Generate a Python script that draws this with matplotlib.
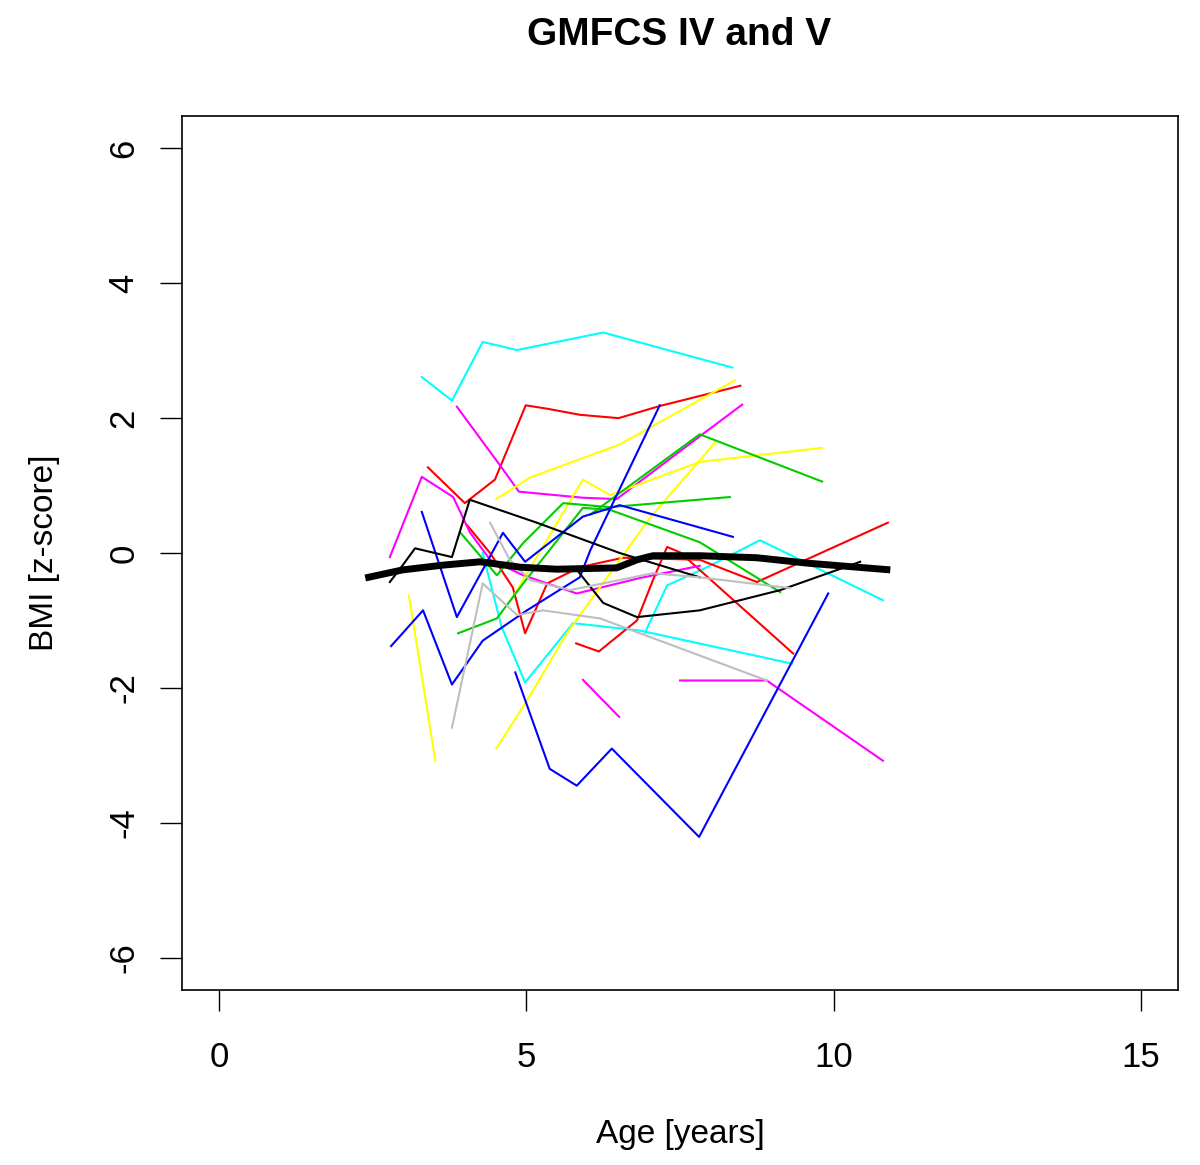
import matplotlib
matplotlib.use('Agg')
import matplotlib.pyplot as plt
from matplotlib import font_manager

# 字体: 尽量用窄体, 跟原图一样
names = {f.name for f in font_manager.fontManager.ttflist}
fam = 'Liberation Sans Narrow' if 'Liberation Sans Narrow' in names else 'Liberation Sans'
plt.rcParams['font.family'] = [fam, 'DejaVu Sans']
plt.rcParams['axes.unicode_minus'] = False

"""数据: 每个孩子的年龄和BMI z-score"""
cyan1_x = [3.30, 3.79, 4.29, 4.85, 6.25, 8.35]
cyan1_y = [2.61, 2.26, 3.13, 3.01, 3.27, 2.75]
cyan2_x = [4.29, 4.60, 4.98, 5.76, 6.85, 9.32]
cyan2_y = [0.00, -1.10, -1.92, -1.04, -1.15, -1.64]
cyan3_x = [6.93, 7.29, 7.94, 8.80, 10.80]
cyan3_y = [-1.18, -0.48, -0.21, 0.19, -0.70]

red1_x = [3.40, 4.00, 4.49, 4.99, 5.34, 5.87, 6.50, 7.17, 8.48]
red1_y = [1.27, 0.74, 1.09, 2.19, 2.14, 2.05, 2.00, 2.18, 2.48]
red2_x = [4.03, 4.41, 4.78, 4.98, 5.34, 5.87, 6.57, 7.82, 8.75, 10.88]
red2_y = [0.42, 0.00, -0.51, -1.19, -0.45, -0.21, -0.07, -0.10, -0.43, 0.45]
red3_x = [5.81, 6.18, 6.80, 7.06, 7.29, 7.50, 9.34]
red3_y = [-1.34, -1.46, -1.00, -0.40, 0.09, 0.01, -1.49]

mag1_x = [2.78, 3.30, 3.81, 4.08, 4.41, 4.95, 5.82, 6.85, 7.82]
mag1_y = [-0.06, 1.13, 0.83, 0.31, -0.10, -0.33, -0.60, -0.37, -0.19]
mag2_x = [3.87, 4.54, 4.88, 5.92, 6.47, 7.82, 8.51]
mag2_y = [2.17, 1.34, 0.91, 0.82, 0.80, 1.73, 2.20]
mag3_x = [5.92, 6.51]
mag3_y = [-1.88, -2.43]
mag4_x = [7.50, 8.91, 10.80]
mag4_y = [-1.89, -1.89, -3.08]

yel1_x = [4.51, 5.06, 6.52, 8.39]
yel1_y = [0.80, 1.12, 1.61, 2.56]
yel2_x = [3.09, 3.52]
yel2_y = [-0.63, -3.08]
yel3_x = [4.51, 5.01, 5.66, 7.01, 8.07]
yel3_y = [-2.90, -2.19, -1.19, 0.52, 1.64]
yel4_x = [4.75, 5.92, 6.36, 7.82, 9.81]
yel4_y = [-0.70, 1.09, 0.86, 1.35, 1.56]

grn1_x = [3.92, 4.52, 4.95, 5.60, 6.36, 8.31]
grn1_y = [0.31, -0.33, 0.15, 0.74, 0.68, 0.83]
grn2_x = [3.89, 4.52, 4.95, 5.92, 6.36, 7.82, 9.13]
grn2_y = [-1.19, -0.97, -0.45, 0.67, 0.64, 0.16, -0.58]
grn3_x = [6.04, 7.82, 9.81]
grn3_y = [0.57, 1.76, 1.06]

blu1_x = [2.80, 3.32, 3.79, 4.29, 5.01, 5.87, 6.04, 7.17]
blu1_y = [-1.38, -0.85, -1.95, -1.30, -0.85, -0.36, 0.04, 2.19]
blu2_x = [3.30, 3.87, 4.62, 4.98, 5.92, 6.52, 8.36]
blu2_y = [0.61, -0.95, 0.30, -0.13, 0.54, 0.71, 0.24]
blu3_x = [4.82, 5.38, 5.82, 6.39, 7.81, 9.91]
blu3_y = [-1.77, -3.20, -3.45, -2.90, -4.21, -0.60]

blk1_x = [2.78, 2.99, 3.19, 3.79, 4.08, 5.17, 6.52, 7.82]
blk1_y = [-0.43, -0.18, 0.07, -0.06, 0.79, 0.45, 0.00, -0.36]
blk2_x = [5.84, 6.25, 6.80, 7.82, 9.13, 10.43]
blk2_y = [-0.27, -0.74, -0.95, -0.85, -0.55, -0.13]

gry1_x = [3.79, 4.29, 4.85, 5.27, 6.20, 8.91]
gry1_y = [-2.59, -0.45, -0.92, -0.85, -0.97, -1.89]
gry2_x = [4.41, 4.73, 5.06, 5.71, 7.06, 7.82, 9.29]
gry2_y = [0.45, -0.10, -0.40, -0.55, -0.30, -0.36, -0.52]

# 平均曲线 (粗黑线)
mean_x = [2.38, 2.99, 3.64, 4.25, 4.90, 5.50, 6.47, 6.80, 7.06, 7.82, 8.75, 9.57, 10.92]
mean_y = [-0.37, -0.25, -0.18, -0.13, -0.21, -0.24, -0.22, -0.10, -0.04, -0.04, -0.07, -0.15, -0.25]

x_ticks = [0, 5, 10, 15]
y_ticks = [-6, -4, -2, 0, 2, 4, 6]

# R 的默认颜色
c_green = '#00CD00'
c_gray = '#BEBEBE'

lines = [
    (cyan1_x, cyan1_y, 'cyan'), (cyan2_x, cyan2_y, 'cyan'), (cyan3_x, cyan3_y, 'cyan'),
    (red1_x, red1_y, 'red'), (red2_x, red2_y, 'red'), (red3_x, red3_y, 'red'),
    (mag1_x, mag1_y, 'magenta'), (mag2_x, mag2_y, 'magenta'),
    (mag3_x, mag3_y, 'magenta'), (mag4_x, mag4_y, 'magenta'),
    (yel1_x, yel1_y, 'yellow'), (yel2_x, yel2_y, 'yellow'),
    (yel3_x, yel3_y, 'yellow'), (yel4_x, yel4_y, 'yellow'),
    (grn1_x, grn1_y, c_green), (grn2_x, grn2_y, c_green), (grn3_x, grn3_y, c_green),
    (blu1_x, blu1_y, 'blue'), (blu2_x, blu2_y, 'blue'), (blu3_x, blu3_y, 'blue'),
    (blk1_x, blk1_y, 'black'), (blk2_x, blk2_y, 'black'),
    (gry1_x, gry1_y, c_gray), (gry2_x, gry2_y, c_gray),
]

"""画布"""
fig = plt.figure(figsize=(12, 11.65), dpi=100)
ax = fig.add_axes([0.1517, 0.1502, 0.83, 0.7502])

for xs, ys, col in lines:
    ax.plot(xs, ys, color=col, lw=1.5)
ax.plot(mean_x, mean_y, color='black', lw=5, solid_capstyle='butt')

ax.set_xlim(-0.6, 15.6)
ax.set_ylim(-6.48, 6.48)
ax.set_xticks(x_ticks)
ax.set_yticks(y_ticks)
ax.set_yticklabels([str(v) for v in y_ticks], rotation=90, va='center')

ax.tick_params(axis='x', length=15, width=1, labelsize=25, pad=22)
ax.tick_params(axis='y', length=16, width=1, labelsize=25, pad=14)
for s in ax.spines.values():
    s.set_linewidth(1.2)

ax.set_xlabel('Age [years]', fontsize=24, labelpad=32)
ax.set_ylabel('BMI [z-score]', fontsize=24, labelpad=34)
fig.suptitle('GMFCS IV and V', fontsize=28, fontweight='bold', x=0.566, y=0.985)

fig.savefig('out.png', dpi=100)
